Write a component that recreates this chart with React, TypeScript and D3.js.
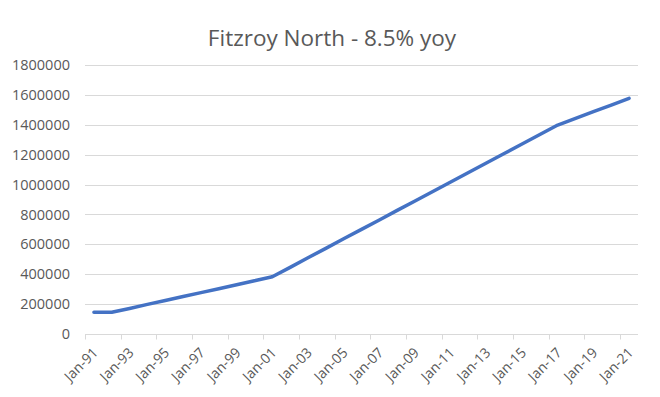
import React, { useEffect, useRef } from 'react';
import * as d3 from 'd3';

// Annual values, Jan-91 .. Jan-21
const years = d3.range(1991, 2022);
const values = [
  145000, 145000, 171000, 198000, 224000, 251000, 277000, 303000, 330000, 356000,
  383000, 446000, 510000, 573000, 637000, 700000, 763000, 827000, 890000, 954000,
  1017000, 1081000, 1144000, 1208000, 1271000, 1335000, 1398000, 1443000, 1488000,
  1532000, 1577000
];
const yTicks = [0, 200000, 400000, 600000, 800000, 1000000, 1200000, 1400000, 1600000, 1800000];
const title = 'Fitzroy North - 8.5% yoy';

const labelFor = (y: number) => 'Jan-' + String(y % 100).padStart(2, '0');

export default function App() {
  const ref = useRef<SVGSVGElement>(null);

  useEffect(() => {
    const width = 660;
    const height = 397;
    const margin = { left: 85, right: 22, top: 65, bottom: 63 };
    const font = "'Open Sans', sans-serif";

    const svg = d3.select(ref.current);
    svg.selectAll('*').remove();

    svg.append('rect').attr('width', width).attr('height', height).attr('fill', '#fff');

    const x = d3.scaleBand<number>()
      .domain(years)
      .range([margin.left, width - margin.right])
      .paddingInner(0)
      .paddingOuter(0);
    const y = d3.scaleLinear()
      .domain([0, 1800000])
      .range([height - margin.bottom, margin.top]);

    // title
    svg.append('text')
      .attr('x', 332)
      .attr('y', 46)
      .attr('text-anchor', 'middle')
      .style('font-family', font)
      .style('font-size', '22.5px')
      .attr('fill', '#595959')
      .text(title);

    // gridlines
    svg.append('g')
      .selectAll('line')
      .data(yTicks)
      .enter()
      .append('line')
      .attr('x1', margin.left)
      .attr('x2', width - margin.right)
      .attr('y1', d => Math.round(y(d)) + 0.5)
      .attr('y2', d => Math.round(y(d)) + 0.5)
      .attr('stroke', '#d9d9d9')
      .attr('stroke-width', 1);

    // y labels
    svg.append('g')
      .selectAll('text')
      .data(yTicks)
      .enter()
      .append('text')
      .attr('x', 70)
      .attr('y', d => y(d))
      .attr('dy', '0.35em')
      .attr('text-anchor', 'end')
      .style('font-family', font)
      .style('font-size', '14.5px')
      .attr('fill', '#595959')
      .text(d => String(d));

    // x tick marks every 2 categories
    const axisY = Math.round(y(0)) + 0.5;
    const tickIdx = d3.range(0, years.length + 1, 2);
    const step = x.step();
    svg.append('g')
      .selectAll('line')
      .data(tickIdx)
      .enter()
      .append('line')
      .attr('x1', i => Math.round(margin.left + i * step) + 0.5)
      .attr('x2', i => Math.round(margin.left + i * step) + 0.5)
      .attr('y1', axisY)
      .attr('y2', axisY + 5)
      .attr('stroke', '#d9d9d9');

    // x labels
    const labelYears = years.filter((d, i) => i % 2 === 0);
    svg.append('g')
      .selectAll('text')
      .data(labelYears)
      .enter()
      .append('text')
      .attr('transform', d => `translate(${x(d)! + step / 2 + 5}, ${axisY + 19}) rotate(-45)`)
      .attr('text-anchor', 'end')
      .style('font-family', font)
      .style('font-size', '14px')
      .attr('fill', '#595959')
      .text(d => labelFor(d));

    // line
    const line = d3.line<number>()
      .x((d, i) => x(years[i])! + step / 2)
      .y(d => y(d));
    svg.append('path')
      .datum(values)
      .attr('d', line)
      .attr('fill', 'none')
      .attr('stroke', '#4472c4')
      .attr('stroke-width', 3.5)
      .attr('stroke-linejoin', 'round')
      .attr('stroke-linecap', 'round');
  }, []);

  return (
    <svg
      ref={ref}
      width={660}
      height={397}
      style={{ position: 'absolute', top: 0, left: 0, display: 'block' }}
    />
  );
}
